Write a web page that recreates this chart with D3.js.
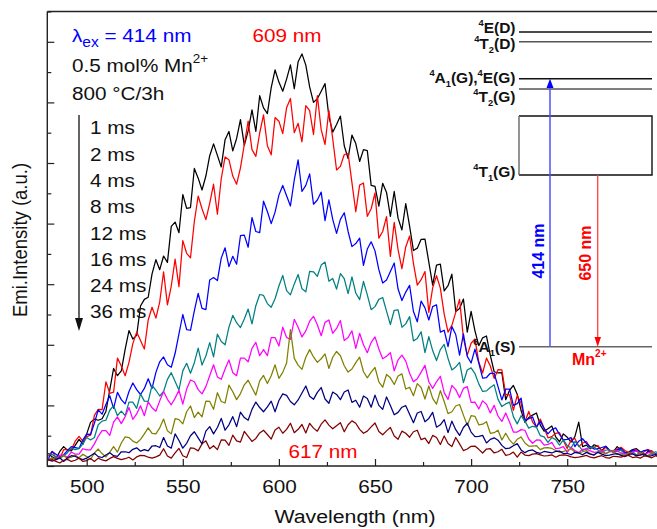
<!DOCTYPE html>
<html><head><meta charset="utf-8">
<script src="https://cdn.jsdelivr.net/npm/d3@7"></script>
<style>body{margin:0;background:#fff}svg{display:block}text{font-family:"Liberation Sans",Arial,sans-serif}</style>
</head><body><svg id="c" width="657" height="529"></svg>
<script>
const wlStart = 480, wlEnd = 800, wlStep = 2;
const delays = ["1 ms","2 ms","4 ms","8 ms","12 ms","16 ms","24 ms","36 ms"];
const colors = ["#000000","#ff0000","#0000ff","#008080","#ff00ff","#808000","#000080","#800000"];
const xTicks = [500,550,600,650,700,750];
const xMinor = [525,575,625,675,725,775];
const yMajor = [0,2,4,6,8,10,12,14];
const yMinor = [1,3,5,7,9,11,13,15];

const s1 = [0.42,0.30,0.24,0.48,0.64,0.52,0.50,0.68,0.88,0.72,
 1.06,1.44,1.55,1.51,1.56,1.8,2.51,3.22,2.98,3.14,
 3.85,4.47,4.19,4.31,5.28,5.5,5.57,6.34,6.81,6.48,
 6.93,6.72,7.91,8.05,7.7,8.96,8.5,8.53,9.82,9.5,
 9.11,9.57,10.24,10.63,10.25,9.87,10.77,11.04,10.4,10.81,
 11.43,10.58,11.06,11.75,11.04,12.22,11.82,11.63,12.49,13.07,
 12.67,12.37,12.77,13.24,12.45,13.34,13.6,13.23,12.51,12.0,
 12.12,12.37,12.62,11.54,11.02,11.27,11.55,10.57,10.15,10.92,
 10.64,10.05,10.44,10.41,9.26,9.23,8.58,9.33,9.03,8.24,
 9.06,8.18,7.79,8.66,7.92,7.11,7.19,7.48,7.49,6.73,
 5.97,6.63,6.66,5.78,5.95,6.33,5.1,5.2,5.51,4.42,
 5.1,4.46,3.97,4.23,4.29,3.65,3.11,3.07,3.08,2.19,
 2.5,2.66,2.37,1.83,1.44,1.6,1.68,1.75,1.35,1.15,
 1.23,1.32,0.96,0.8,1.06,0.95,0.79,0.97,1.45,0.64,
 0.69,0.57,0.7,0.65,0.51,0.65,0.52,0.47,0.64,0.53,
 0.42,0.46,0.54,0.57,0.47,0.34,0.48,0.5,0.37,0.42,
 0.51];
const s2 = [.32,.48,.28,.24,.54,.54,.54,.82,.98,.82,
 .97,1.02,1.67,1.87,1.86,2.78,2.4,2.44,3.56,3.3,
 2.98,3.42,4.04,4.42,4.14,3.86,4.82,5.24,4.88,5.42,
 6.41,5.32,5.94,6.83,5.92,7.44,7.02,6.87,8.07,8.91,
 8.49,8.13,8.67,9.3,8.31,9.48,10.2,10.11,9.57,9.3,
 9.84,10.61,11.38,10.44,10.22,10.99,11.59,10.57,10.27,11.5,
 11.38,10.97,11.82,12.13,11.0,11.31,10.7,11.89,11.73,10.94,
 12.22,11.1,10.61,11.74,10.8,9.77,9.89,10.28,10.31,9.35,
 8.39,9.27,9.34,8.24,8.49,9.01,7.52,7.74,8.23,6.92,
 8.04,7.14,6.51,7.23,7.59,6.69,5.97,6.15,6.42,5.07,
 5.88,6.28,5.87,5.01,4.42,4.64,5.07,5.5,4.22,3.66,
 4.05,4.19,3.43,3.07,3.56,3.3,2.89,3.18,3.17,2.36,
 2.35,1.84,2.33,2.07,1.46,1.8,1.45,1.28,1.55,1.25,
 .93,.97,1.08,1.1,.84,.58,.86,.91,.64,.75,
 .81,.6,.62,.67,.48,.62,.52,.45,.56,.62,
 .51,.44,.48,.53,.37,.47,.54,.49,.38,.31,
 .35];
const s4 = [.23,.48,.39,.29,.37,.51,.64,.61,.58,.86,
 1.05,1.04,1.41,1.85,1.71,2.03,2.32,1.9,2.43,2.19,
 2.05,2.46,2.74,2.52,2.36,2.56,2.88,2.56,3.09,3.44,
 3.6,3.34,3.26,3.72,4.36,5.0,4.5,4.48,5.12,5.7,
 5.2,5.16,6.14,6.22,6.12,6.86,7.2,6.58,6.92,6.66,
 7.6,7.62,7.22,8.2,7.74,7.7,8.74,8.4,8.0,8.38,
 8.94,9.26,8.92,8.58,9.44,10.1,9.06,9.26,9.64,8.64,
 8.78,9.04,8.1,8.78,8.14,7.68,8.14,8.36,7.74,7.24,
 7.34,7.52,6.62,7.16,7.4,7.1,6.48,6.04,6.14,6.42,
 6.7,5.84,5.46,5.74,5.96,5.1,4.76,5.44,5.22,4.82,
 5.26,5.32,4.42,4.48,3.94,4.6,4.34,3.66,4.36,3.62,
 3.4,3.86,3.4,2.9,2.92,3.06,3.06,2.62,2.18,2.54,
 2.54,2.0,2.06,2.24,1.5,1.56,1.62,1.28,1.48,1.24,
 1.06,1.2,1.26,1.04,.86,.88,.94,.64,.82,.9,
 .75,.64,.56,.57,.61,.65,.52,.47,.53,.58,
 .45,.4,.53,.5,.45,.51,.53,.39,.41,.33,
 .45];
const s8 = [.4,.38,.3,.26,.33,.44,.6,.54,.57,.73,
 .94,.86,.94,1.36,1.48,1.51,1.84,1.99,1.66,1.81,
 1.66,2.11,2.11,1.9,2.38,2.14,2.13,2.66,2.5,2.31,
 2.46,2.86,3.08,2.79,2.51,3.14,3.39,3.06,3.41,3.89,
 3.33,3.63,4.07,3.6,4.35,4.11,4.0,4.58,4.97,4.73,
 4.57,4.85,5.18,4.69,5.29,5.66,5.63,5.36,5.24,5.52,
 5.94,6.29,5.79,5.65,6.01,6.32,5.85,5.75,6.42,6.41,
 6.26,6.63,6.73,6.1,6.19,5.84,6.35,6.18,5.69,6.24,
 5.71,5.49,6.09,5.65,5.16,5.26,5.5,5.56,5.11,4.67,
 5.14,5.15,4.58,4.69,4.93,4.13,4.21,4.43,3.74,4.27,
 3.81,3.48,3.84,4.01,3.55,3.17,3.27,3.42,2.75,3.17,
 3.24,3.05,2.71,2.46,2.48,2.59,2.68,2.2,1.96,2.05,
 2.11,1.63,1.39,1.66,1.48,1.25,1.31,1.28,1.0,.96,
 .78,.94,.87,.69,.86,.67,.6,.81,.67,.51,
 .58,.61,.62,.53,.45,.52,.54,.45,.48,.53,
 .4,.42,.47,.36,.46,.38,.34,.42,.47,.41,
 .36];
const s12 = [.21,.26,.21,.36,.36,.29,.46,.39,.39,.57,
 .53,.53,.73,.98,1.17,1.17,1.01,1.45,1.62,1.4,
 1.63,1.93,1.54,1.72,1.99,1.66,2.12,1.92,1.81,2.15,
 2.46,2.2,2.02,2.24,2.5,2.04,2.54,2.84,2.78,2.52,
 2.38,2.62,2.98,3.34,2.94,2.86,3.2,3.5,3.08,2.98,
 3.56,3.56,3.44,3.88,4.08,3.64,3.84,3.64,4.24,4.24,
 3.96,4.58,4.24,4.18,4.84,4.58,4.26,4.46,4.78,4.94,
 4.66,4.3,4.74,4.82,4.38,4.54,4.8,4.14,4.24,4.46,
 3.88,4.38,4.0,3.74,4.08,4.26,3.86,3.54,3.62,3.74,
 3.14,3.5,3.66,3.46,3.06,2.78,2.88,3.1,3.32,2.78,
 2.56,2.78,2.96,2.42,2.2,2.66,2.52,2.26,2.56,2.62,
 2.1,2.11,1.88,2.15,2.04,1.75,2.0,1.65,1.47,1.75,
 1.45,1.12,1.12,1.2,1.18,.89,.75,.86,.85,.69,
 .71,.78,.57,.59,.64,.45,.61,.51,.44,.55,
 .56,.5,.45,.47,.51,.41,.48,.52,.5,.43,
 .39,.41,.46,.5,.42,.38,.43,.46,.37,.35,
 .43];
const s16 = [.22,.27,.21,.27,.35,.25,.29,.36,.27,.39,
 .31,.22,.43,.56,.41,.3,.46,.64,.46,.76,
 .96,.94,.82,.76,.88,1.06,1.26,1.08,1.06,1.26,
 1.55,1.16,1.06,1.56,1.53,1.39,1.79,1.98,1.6,1.78,
 1.62,2.14,2.13,1.87,2.42,2.13,2.08,2.67,2.45,2.19,
 2.39,2.68,2.83,2.58,2.34,2.81,2.99,2.72,2.98,3.34,
 2.89,3.09,3.4,4.5,3.55,3.33,3.19,3.59,3.84,3.6,
 3.42,3.54,3.7,3.22,3.59,3.78,3.64,3.31,3.1,3.2,
 3.41,3.59,3.11,2.91,3.1,3.25,2.78,2.6,3.02,2.91,
 2.69,2.97,3.04,2.54,2.6,2.32,2.72,2.59,2.21,2.64,
 2.23,2.04,2.49,2.13,1.73,1.79,1.98,2.03,1.68,1.34,
 1.66,1.64,1.36,1.38,1.46,1.08,1.1,1.18,.86,1.08,
 .86,.72,.88,.96,.76,.66,.66,.67,.54,.6,
 .61,.58,.51,.46,.48,.52,.57,.46,.42,.47,
 .51,.4,.37,.47,.45,.4,.47,.49,.38,.4,
 .34,.44,.41,.34,.44,.36,.33,.45,.38,.3,
 .33];
const s24 = [.21,.16,.21,.27,.15,.27,.34,.32,.25,.21,
 .26,.34,.42,.31,.28,.36,.44,.34,.32,.47,
 .47,.44,.55,.6,.49,.54,.5,.66,.67,.61,
 .94,.66,.59,1.06,.84,.59,.75,1.0,1.13,.93,
 .73,1.15,1.3,1.06,1.27,1.57,1.18,1.36,1.63,1.3,
 1.78,1.6,1.51,1.87,2.11,1.93,1.79,1.95,2.14,1.79,
 2.16,2.38,2.33,2.13,2.02,2.18,2.41,2.64,2.3,2.2,
 2.43,2.59,2.21,2.07,2.44,2.36,2.19,2.44,2.51,2.1,
 2.17,1.94,2.31,2.23,1.94,2.34,2.0,1.87,2.28,2.0,
 1.69,1.77,1.94,1.99,1.71,1.43,1.75,1.8,1.46,1.57,
 1.77,1.28,1.36,1.53,1.1,1.48,1.2,1.01,1.27,1.41,
 1.12,.97,.98,1.01,.76,.88,.93,.85,.68,.57,
 .59,.67,.74,.53,.44,.51,.53,.45,.42,.48,
 .46,.43,.48,.49,.41,.42,.37,.45,.43,.37,
 .45,.39,.36,.45,.39,.34,.36,.39,.41,.35,
 .31,.38,.4,.34,.36,.4,.31,.34,.38,.3,
 .39];
const s36 = [.18,.21,.15,.1,.19,.22,.15,.19,.26,.15,
 .18,.25,.15,.26,.2,.17,.25,.31,.25,.21,
 .24,.29,.2,.3,.35,.34,.29,.26,.3,.36,
 .57,.33,.26,.43,.58,.34,.28,.6,.58,.5,
 .73,.83,.57,.67,.54,.86,.85,.68,1.02,.83,
 .79,1.14,.98,.81,.91,1.09,1.18,1.04,.89,1.19,
 1.28,1.08,1.21,1.41,1.1,1.21,1.37,1.09,1.41,1.25,
 1.15,1.38,1.52,1.35,1.23,1.33,1.43,1.13,1.36,1.49,
 1.41,1.21,1.08,1.15,1.29,1.42,1.14,1.03,1.16,1.27,
 .99,.88,1.15,1.08,.95,1.13,1.18,.87,.92,.74,
 1.01,.94,.71,.99,.74,.64,.94,.73,.51,.56,
 .65,.66,.55,.43,.56,.57,.43,.47,.55,.35,
 .38,.46,.29,.46,.36,.34,.39,.41,.37,.33,
 .34,.37,.29,.35,.37,.35,.3,.28,.29,.32,
 .35,.29,.27,.31,.34,.28,.26,.32,.31,.29,
 .33,.35,.28,.3,.26,.33,.32,.27,.34,.29,
 .28];
const seriesValues = [s1,s2,s4,s8,s12,s16,s24,s36];

const svg = d3.select("#c");
const W = 657, H = 529;
const x = d3.scaleLinear().domain([479.5, 800]).range([47.3, 663.3]);
const y = d3.scaleLinear().domain([0, 15]).range([466, 11.5]);
const SX = 1.12;

// lines
const line = d3.line().x(d => x(d[0])).y(d => y(d[1]));
const wl = d3.range(wlStart, wlEnd + 1, wlStep);
const lg = svg.append("g");
seriesValues.forEach((vals, i) => {
  lg.append("path").datum(vals.map((v, k) => [wl[k], v]))
    .attr("d", line).attr("fill", "none").attr("stroke", colors[i])
    .attr("stroke-width", 1.25).attr("stroke-linejoin", "round");
});

// axes
const axB = svg.append("g").attr("transform", `translate(0,${y(0)})`)
  .call(d3.axisBottom(x).tickValues(xTicks).tickSize(-7).tickPadding(12).tickFormat(d3.format("d")));
const axBm = svg.append("g").attr("transform", `translate(0,${y(0)})`)
  .call(d3.axisBottom(x).tickValues(xMinor).tickSize(-4).tickFormat(""));
const axL = svg.append("g").attr("transform", `translate(${x(479.5)},0)`)
  .call(d3.axisLeft(y).tickValues(yMajor).tickSize(-7).tickFormat(""));
const axLm = svg.append("g").attr("transform", `translate(${x(479.5)},0)`)
  .call(d3.axisLeft(y).tickValues(yMinor).tickSize(-4).tickFormat(""));
[axB, axBm, axL, axLm].forEach(a => {
  a.select(".domain").remove();
  a.selectAll("line").attr("stroke", "#222").attr("stroke-width", 1.2);
});
axB.selectAll("text").attr("font-size", 18.5).attr("fill", "#111")
  .attr("font-family", '"Liberation Sans",Arial,sans-serif')
  .attr("transform", `scale(${SX},1)`).attr("dy", "0.71em").attr("y", 14);

// frame
svg.append("path").attr("d", `M${x(479.5)},${y(15)}H${W}M${x(479.5)},${y(15)}V${y(0)}H${W}`)
  .attr("fill", "none").attr("stroke", "#222").attr("stroke-width", 1.4);

// helper text
function txt(px, py, size, color, anchor, weight, parts, rot) {
  const g = svg.append("g").attr("transform", `translate(${px},${py}) scale(${SX},1)` + (rot ? ` rotate(${rot})` : ""));
  const t = g.append("text").attr("font-size", size).attr("fill", color)
    .attr("text-anchor", anchor).attr("font-weight", weight || "normal");
  parts.forEach(p => {
    const ts = t.append("tspan").text(p.t);
    if (p.s) ts.attr("font-size", size * p.s);
    if (p.dy) ts.attr("dy", p.dy);
  });
  return t;
}

// axis titles
txt(355, 523, 19, "#111", "middle", "normal", [{t: "Wavelength (nm)"}]);
txt(27, 240, 18.5, "#111", "middle", "normal", [{t: "Emi.Intensity (a.u.)"}], -90);

// legend texts
txt(72, 42, 18.5, "#0000ff", "start", "normal", [{t: "λ"}, {t: "ex", s: 0.75, dy: 5}, {t: " = 414 nm", dy: -5}]);
txt(72, 71.5, 18.5, "#111", "start", "normal", [{t: "0.5 mol% Mn"}, {t: "2+", s: 0.65, dy: -9}]);
txt(72, 100, 18.5, "#111", "start", "normal", [{t: "800 °C/3h"}]);
txt(287, 42, 18.5, "#ff0000", "middle", "normal", [{t: "609 nm"}]);
txt(323, 457.5, 18.5, "#ff0000", "middle", "normal", [{t: "617 nm"}]);
delays.forEach((d, i) => txt(90, 134.3 + 26.3 * i, 18.5, "#111", "start", "normal", [{t: d}]));

// delay arrow
svg.append("line").attr("x1", 79).attr("x2", 79).attr("y1", 115).attr("y2", 322)
  .attr("stroke", "#111").attr("stroke-width", 1.3);
svg.append("path").attr("d", "M75,318L83,318L79,331Z").attr("fill", "#111");

// energy level diagram
const ex0 = 519, ex1 = 652;
const levels = [
  {yy: 32, c: "#111"}, {yy: 41.7, c: "#555"}, {yy: 78.7, c: "#111"}, {yy: 89, c: "#555"}, {yy: 346.7, c: "#666"}
];
levels.forEach(l => svg.append("line").attr("x1", ex0).attr("x2", ex1).attr("y1", l.yy).attr("y2", l.yy)
  .attr("stroke", l.c).attr("stroke-width", 1.4));
svg.append("path").attr("d", `M${ex0},116H${ex1}V175H${ex0}`).attr("fill", "none").attr("stroke", "#111").attr("stroke-width", 1.4);
svg.append("line").attr("x1", ex0).attr("x2", ex0).attr("y1", 116).attr("y2", 175).attr("stroke", "#666").attr("stroke-width", 1.4);
// arrows
svg.append("line").attr("x1", 550).attr("x2", 550).attr("y1", 346.7).attr("y2", 86).attr("stroke", "#5050ff").attr("stroke-width", 1.5);
svg.append("path").attr("d", "M546.5,88L553.5,88L550,78.7Z").attr("fill", "#0000ff");
svg.append("line").attr("x1", 597.7).attr("x2", 597.7).attr("y1", 175).attr("y2", 340).attr("stroke", "#ff4040").attr("stroke-width", 1.3);
svg.append("path").attr("d", "M594.5,337L601,337L597.7,346.7Z").attr("fill", "#ff0000");

function lab(px, py, parts) {
  const t = svg.append("text").attr("x", px).attr("y", py).attr("font-size", 15.5).attr("font-weight", "bold")
    .attr("fill", "#111").attr("text-anchor", "end");
  parts.forEach(p => {
    const ts = t.append("tspan").text(p.t);
    if (p.s) ts.attr("font-size", 15.5 * p.s);
    if (p.dy) ts.attr("dy", p.dy);
  });
}
lab(515.5, 33, [{t: "4", s: 0.6, dy: -7}, {t: "E(D)", dy: 7}]);
lab(515.5, 49, [{t: "4", s: 0.6, dy: -7}, {t: "T", dy: 7}, {t: "2", s: 0.6, dy: 4}, {t: "(D)", dy: -4}]);
lab(515.5, 83, [{t: "4", s: 0.6, dy: -7}, {t: "A", dy: 7}, {t: "1", s: 0.6, dy: 4}, {t: "(G),", dy: -4}, {t: "4", s: 0.6, dy: -7}, {t: "E(G)", dy: 7}]);
lab(515.5, 101.5, [{t: "4", s: 0.6, dy: -7}, {t: "T", dy: 7}, {t: "2", s: 0.6, dy: 4}, {t: "(G)", dy: -4}]);
lab(515.5, 177, [{t: "4", s: 0.6, dy: -7}, {t: "T", dy: 7}, {t: "1", s: 0.6, dy: 4}, {t: "(G)", dy: -4}]);
lab(515.5, 352, [{t: "6", s: 0.6, dy: -7}, {t: "A", dy: 7}, {t: "1", s: 0.6, dy: 4}, {t: "(S)", dy: -4}]);

function rlab(px, py, s, color) {
  svg.append("text").attr("transform", `translate(${px},${py}) rotate(-90)`).attr("text-anchor", "middle")
    .attr("font-size", 16).attr("font-weight", "bold").attr("fill", color).text(s);
}
rlab(543.5, 251, "414 nm", "#0000ff");
rlab(591, 253, "650 nm", "#ff0000");
const mn = svg.append("text").attr("x", 572).attr("y", 365).attr("font-size", 16).attr("font-weight", "bold").attr("fill", "#ff0000");
mn.append("tspan").text("Mn");
mn.append("tspan").text("2+").attr("font-size", 10).attr("dy", -8);
</script></body></html>
